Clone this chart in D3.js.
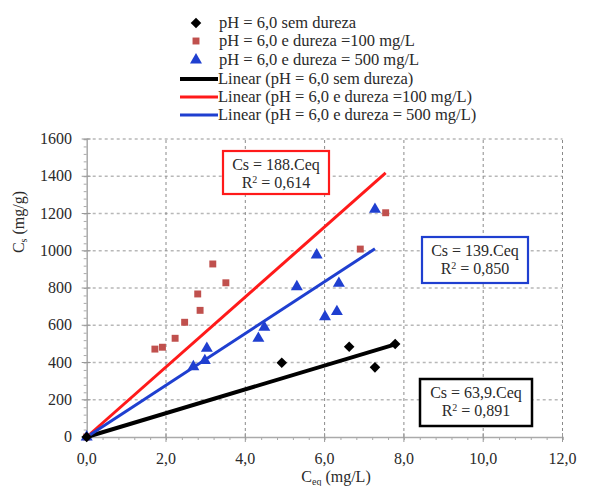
<!DOCTYPE html>
<html>
<head>
<meta charset="utf-8">
<script src="https://cdn.jsdelivr.net/npm/d3@7.9.0/dist/d3.min.js"></script>
<style>
  body { margin: 0; background: #fff; }
  svg text { font-family: "Liberation Serif", "Times New Roman", "DejaVu Serif", serif; fill: #2a2a2a; }
</style>
</head>
<body>
<svg id="chart" width="590" height="486"></svg>
<script>
// data
const semDureza = [[0, 0], [4.92, 399], [6.62, 485], [7.27, 374], [7.78, 499]];
const dureza100 = [[0, 0], [1.72, 472], [1.91, 482], [2.23, 530], [2.47, 616], [2.86, 680],
  [2.80, 768], [3.18, 929], [3.51, 828], [6.90, 1009], [7.54, 1204]];
const dureza500 = [[0, 0], [2.69, 377], [2.98, 410], [3.03, 476], [4.33, 530], [4.48, 589],
  [5.30, 807], [5.80, 977], [6.01, 646], [6.31, 673], [6.36, 825], [7.27, 1222]];
const slopes = [63.9, 188, 139];
const r2Labels = ['0,891', '0,614', '0,850'];
const slopeLabels = ['63,9', '188', '139'];
const xTicks = [0, 2, 4, 6, 8, 10, 12];
const yTicks = [0, 200, 400, 600, 800, 1000, 1200, 1400, 1600];
const legendLabels = [
  'pH = 6,0 sem dureza',
  'pH = 6,0 e dureza =100 mg/L',
  'pH = 6,0 e dureza = 500 mg/L',
  'Linear (pH = 6,0 sem dureza)',
  'Linear (pH = 6,0 e dureza =100 mg/L)',
  'Linear (pH = 6,0 e dureza = 500 mg/L)'
];

const colors = ['#000000', '#c0504d', '#1f3fd0'];
const lineColors = ['#000000', '#ff1a1a', '#1f3fd0'];
const FS = 16;

const svg = d3.select('#chart');
const x = d3.scaleLinear().domain([0, 12]).range([86.7, 562.5]);
const y = d3.scaleLinear().domain([0, 1600]).range([437, 139]);

// gridlines
svg.append('g').selectAll('line').data(yTicks.slice(1)).join('line')
  .attr('x1', x(0)).attr('x2', x(12))
  .attr('y1', d => y(d)).attr('y2', d => y(d))
  .attr('stroke', '#b8b8b8').attr('stroke-width', 1.6).attr('stroke-dasharray', '3,3');
svg.append('g').selectAll('line').data(xTicks.slice(1)).join('line')
  .attr('x1', d => x(d)).attr('x2', d => x(d))
  .attr('y1', y(0)).attr('y2', y(1600))
  .attr('stroke', '#8a8a8a').attr('stroke-width', 1).attr('stroke-dasharray', '3,3');

// axes
const xAxis = svg.append('g').attr('transform', `translate(0,${y(0)})`)
  .call(d3.axisBottom(x).tickValues(d3.range(0, 12.01, 0.4)).tickSize(3).tickFormat(''));
const yAxis = svg.append('g').attr('transform', `translate(${x(0)},0)`)
  .call(d3.axisLeft(y).tickValues(d3.range(0, 1601, 40)).tickSize(3).tickFormat(''));
// major ticks
svg.append('g').selectAll('line').data(xTicks).join('line')
  .attr('x1', d => x(d)).attr('x2', d => x(d)).attr('y1', y(0) - 4).attr('y2', y(0) + 5)
  .attr('stroke', '#999');
svg.append('g').selectAll('line').data(yTicks).join('line')
  .attr('y1', d => y(d)).attr('y2', d => y(d)).attr('x1', x(0) - 5).attr('x2', x(0) + 4)
  .attr('stroke', '#999');
[xAxis, yAxis].forEach(a => {
  a.select('.domain').attr('stroke', '#aaa').attr('stroke-width', 1.5);
  a.selectAll('.tick line').attr('stroke', '#aaa');
});

svg.append('g').selectAll('text').data(xTicks).join('text')
  .attr('x', d => x(d)).attr('y', 464).attr('text-anchor', 'middle')
  .attr('font-size', FS).text(d => d3.format('.1f')(d).replace('.', ','));
svg.append('g').selectAll('text').data(yTicks).join('text')
  .attr('x', 72).attr('y', d => y(d) + 5).attr('text-anchor', 'end')
  .attr('font-size', FS).text(d => d);

// axis titles
const xt = svg.append('text').attr('x', 336).attr('y', 482).attr('text-anchor', 'middle').attr('font-size', FS);
xt.append('tspan').text('C');
xt.append('tspan').attr('font-size', 10).attr('dy', 3).text('eq');
xt.append('tspan').attr('dy', -3).text(' (mg/L)');
const yt = svg.append('text').attr('transform', 'translate(24,222) rotate(-90)')
  .attr('text-anchor', 'middle').attr('font-size', FS);
yt.append('tspan').text('C');
yt.append('tspan').attr('font-size', 10).attr('dy', 3).text('s');
yt.append('tspan').attr('dy', -3).text(' (mg/g)');

// trend lines through origin
const series = [semDureza, dureza100, dureza500];
const widths = [4, 3, 3];
series.forEach((s, i) => {
  const xmax = d3.max(s, d => d[0]);
  svg.append('line')
    .attr('x1', x(0)).attr('y1', y(0))
    .attr('x2', x(xmax)).attr('y2', y(slopes[i] * xmax))
    .attr('stroke', lineColors[i]).attr('stroke-width', widths[i]);
});

// markers
const symbols = [d3.symbolSquare, d3.symbolSquare, d3.symbolTriangle];
const sizes = [56, 48, 62];
function marker(g, i) {
  g.append('path').attr('d', d3.symbol(symbols[i], sizes[i])())
    .attr('fill', colors[i])
    .attr('transform', i === 0 ? 'rotate(45)' : null);
}
[1, 2, 0].forEach(i => {
  series[i].forEach(d => {
    const g = svg.append('g').attr('transform', `translate(${x(d[0])},${y(d[1])})`);
    marker(g, i);
  });
});

// equation boxes
const boxes = [
  { i: 0, x0: 420, y0: 379, w: 112, h: 47 },
  { i: 1, x0: 223, y0: 151, w: 106, h: 43 },
  { i: 2, x0: 422, y0: 237, w: 106, h: 46 }
];
boxes.forEach(b => {
  svg.append('rect').attr('x', b.x0).attr('y', b.y0).attr('width', b.w).attr('height', b.h)
    .attr('fill', '#fff').attr('stroke', lineColors[b.i]).attr('stroke-width', b.i === 0 ? 2.5 : 2.2);
  svg.append('text').attr('x', b.x0 + b.w / 2).attr('y', b.y0 + 19).attr('text-anchor', 'middle')
    .attr('font-size', FS).text(`Cs = ${slopeLabels[b.i]}.Ceq`);
  const t = svg.append('text').attr('x', b.x0 + b.w / 2).attr('y', b.y0 + 37).attr('text-anchor', 'middle')
    .attr('font-size', FS);
  t.append('tspan').text('R');
  t.append('tspan').attr('font-size', 10).attr('dy', -5).text('2');
  t.append('tspan').attr('dy', 5).text(` = ${r2Labels[b.i]}`);
});

// legend
const legend = svg.append('g');
const rowY = [23, 41, 60, 79, 97, 115];
legendLabels.forEach((label, k) => {
  const yy = rowY[k];
  if (k < 3) {
    const g = legend.append('g').attr('transform', `translate(196,${yy})`);
    marker(g, k);
    legend.append('text').attr('x', 219).attr('y', yy + 5).attr('font-size', 16.5).text(label);
  } else {
    const i = k - 3;
    legend.append('line').attr('x1', 180).attr('x2', 218).attr('y1', yy).attr('y2', yy)
      .attr('stroke', lineColors[i]).attr('stroke-width', widths[i]);
    legend.append('text').attr('x', 218).attr('y', yy + 5).attr('font-size', 16.5).text(label);
  }
});
</script>
</body>
</html>
